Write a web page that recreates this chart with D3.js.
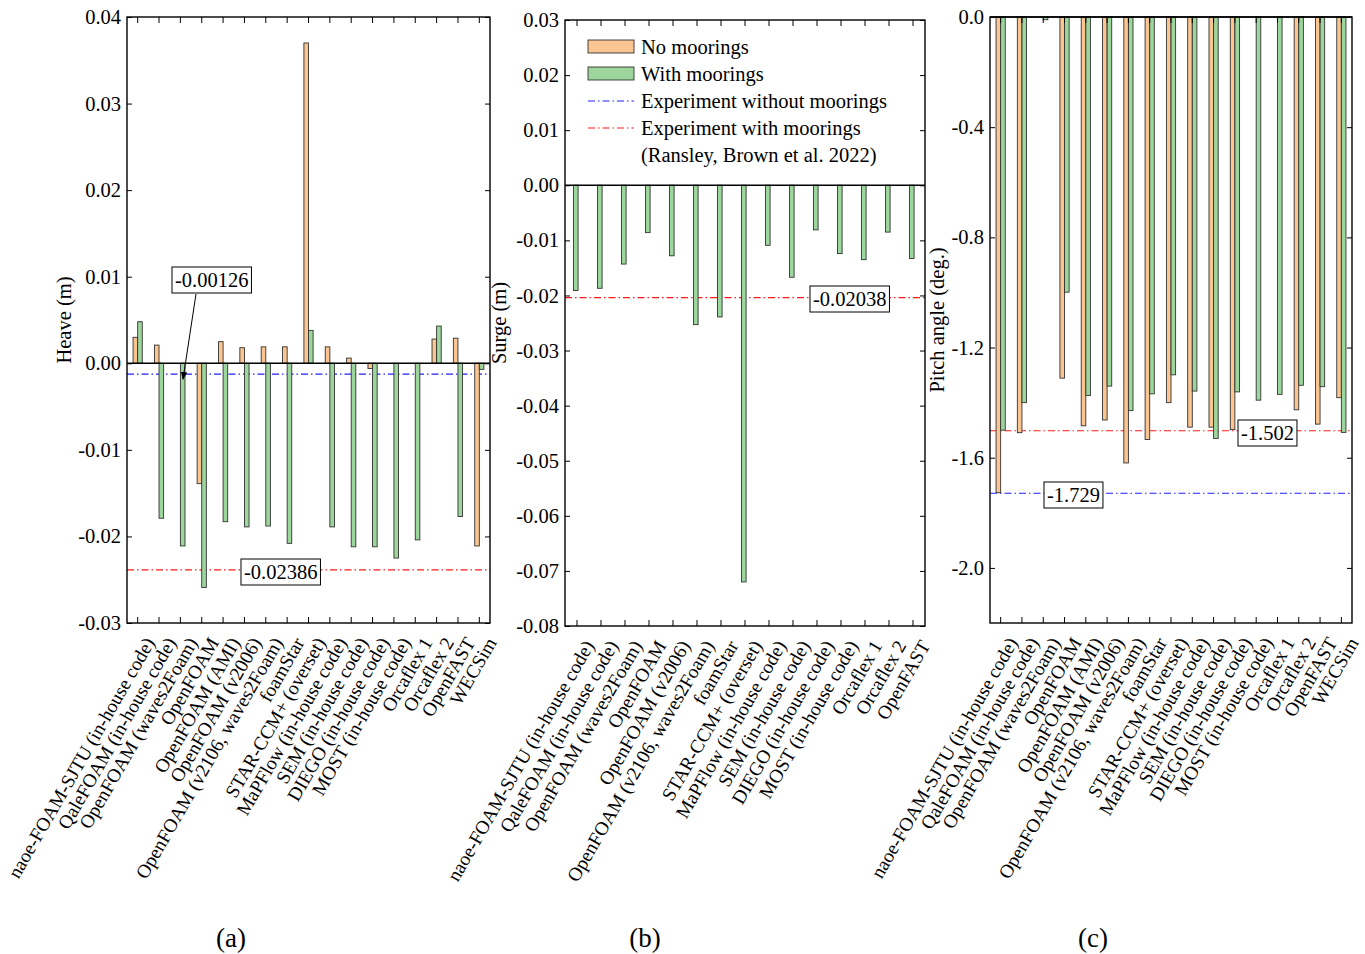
<!DOCTYPE html>
<html><head><meta charset="utf-8">
<script src="https://cdn.jsdelivr.net/npm/d3@7"></script>
<style>body{margin:0;background:#fff}text{font-family:"Liberation Serif","DejaVu Serif",serif}</style>
</head><body><svg id="chart" width="1365" height="954"></svg>
<script>
const codesA = ["naoe-FOAM-SJTU (in-house code)", "QaleFOAM (in-house code)", "OpenFOAM (waves2Foam)", "OpenFOAM",
  "OpenFOAM (AMI)", "OpenFOAM (v2006)", "OpenFOAM (v2106, waves2Foam)", "foamStar", "STAR-CCM+ (overset)",
  "MaPFlow (in-house code)", "SEM (in-house code)", "DIEGO (in-house code)", "MOST (in-house code)",
  "Orcaflex 1", "Orcaflex 2", "OpenFAST", "WECSim"];
const codesB = ["naoe-FOAM-SJTU (in-house code)", "QaleFOAM (in-house code)", "OpenFOAM (waves2Foam)", "OpenFOAM",
  "OpenFOAM (v2006)", "OpenFOAM (v2106, waves2Foam)", "foamStar", "STAR-CCM+ (overset)",
  "MaPFlow (in-house code)", "SEM (in-house code)", "DIEGO (in-house code)", "MOST (in-house code)",
  "Orcaflex 1", "Orcaflex 2", "OpenFAST"];

const heaveNoMoor = [0.0030, 0.0021, null, -0.0139, 0.0025, 0.0018, 0.0019, 0.0019, 0.0370, 0.0019, 0.0006, -0.0006, null, null, 0.0028, 0.0029, -0.0211];
const heaveMoor = [0.0048, -0.0179, -0.0211, -0.0259, -0.0183, -0.0189, -0.0188, -0.0208, 0.0038, -0.0189, -0.0212, -0.0212, -0.0225, -0.0204, 0.0043, -0.0177, -0.0007];
const surgeMoor = [-0.0191, -0.0187, -0.0143, -0.0086, -0.0128, -0.0253, -0.0239, -0.0720, -0.0109, -0.0167, -0.0081, -0.0124, -0.0135, -0.0085, -0.0133];
const pitchNoMoor = [-1.727, -1.509, null, -1.311, -1.484, -1.463, -1.619, -1.534, -1.400, -1.489, -1.489, -1.498, null, null, -1.426, -1.478, -1.382];
const pitchMoor = [-1.500, -1.400, -0.010, -0.999, -1.374, -1.340, -1.429, -1.368, -1.299, -1.358, -1.530, -1.361, -1.391, -1.370, -1.337, -1.342, -1.508];

const heaveTicks = [0.04, 0.03, 0.02, 0.01, 0, -0.01, -0.02, -0.03];
const surgeTicks = [0.03, 0.02, 0.01, 0, -0.01, -0.02, -0.03, -0.04, -0.05, -0.06, -0.07, -0.08];
const pitchTicks = [0, -0.4, -0.8, -1.2, -1.6, -2.0];

const ORANGE = "#fac590", GREEN = "#9cd69c", BLUE = "#2020ff", RED = "#ff1a1a";
const FS = 20.5;
const svg = d3.select("#chart");

function panel(o) {
  const g = svg.append("g");
  const x = d3.scaleBand().domain(o.cats).range([o.x0, o.x1]);
  const y = d3.scaleLinear().domain(o.yDomain).range([o.y1, o.y0]);
  const bw = 4.6;
  const cx = c => x(c) + x.bandwidth() / 2;

  // reference lines
  o.refs.forEach(r => {
    g.append("line").attr("x1", o.x0).attr("x2", o.x1).attr("y1", y(r.v)).attr("y2", y(r.v))
      .attr("stroke", r.color).attr("stroke-width", 1.2).attr("stroke-dasharray", "7,3,1.5,3");
  });

  // bars
  o.series.forEach(s => {
    g.selectAll(null).data(o.cats.map((c, i) => ({ c, v: s.values[i] })).filter(d => d.v != null))
      .enter().append("rect")
      .attr("x", d => cx(d.c) + s.off)
      .attr("width", bw)
      .attr("y", d => y(Math.max(0, d.v)))
      .attr("height", d => Math.abs(y(d.v) - y(0)))
      .attr("fill", s.color).attr("stroke", "#333").attr("stroke-width", 0.9);
  });

  // zero line
  g.append("line").attr("x1", o.x0).attr("x2", o.x1).attr("y1", y(0)).attr("y2", y(0))
    .attr("stroke", "#000").attr("stroke-width", 1.5);

  // frame
  g.append("rect").attr("x", o.x0).attr("y", o.y0).attr("width", o.x1 - o.x0).attr("height", o.y1 - o.y0)
    .attr("fill", "none").attr("stroke", "#000").attr("stroke-width", 1.4);

  // y axis left & right
  const yl = g.append("g").attr("transform", `translate(${o.x0},0)`)
    .call(d3.axisLeft(y).tickValues(o.ticks).tickSize(-5).tickPadding(6).tickFormat(o.fmt));
  yl.select(".domain").remove();
  yl.selectAll("text").attr("font-size", FS);
  const yr = g.append("g").attr("transform", `translate(${o.x1},0)`)
    .call(d3.axisRight(y).tickValues(o.ticks).tickSize(-5).tickFormat(""));
  yr.select(".domain").remove();

  // x axis bottom & top
  const xa = g.append("g").attr("transform", `translate(0,${o.y1})`)
    .call(d3.axisBottom(x).tickSize(-6).tickPadding(4));
  xa.select(".domain").remove();
  xa.selectAll("text").attr("font-size", 19.3).attr("text-anchor", "end").attr("y", 0)
    .attr("transform", "translate(12,16) rotate(-60)").attr("dy", "0.35em");
  const xt = g.append("g").attr("transform", `translate(0,${o.y0})`)
    .call(d3.axisTop(x).tickSize(-6).tickFormat(""));
  xt.select(".domain").remove();

  // y label
  svg.append("text").attr("transform", `translate(${o.labX},${(o.y0 + o.y1) / 2}) rotate(-90)`)
    .attr("text-anchor", "middle").attr("font-size", FS).text(o.label);

  // caption
  svg.append("text").attr("x", o.capX).attr("y", 947).attr("text-anchor", "middle")
    .attr("font-size", 27).text(o.cap);

  // value boxes
  o.boxes.forEach(b => {
    const t = g.append("text").attr("x", b.x).attr("y", b.y).attr("font-size", FS).text(b.t);
    const bb = t.node().getBBox();
    g.insert("rect", () => t.node()).attr("x", bb.x - 3).attr("y", bb.y - 2)
      .attr("width", bb.width + 6).attr("height", bb.height + 4)
      .attr("fill", "#fff").attr("stroke", "#000").attr("stroke-width", 1);
  });
  return { g, x, y };
}

const pa = panel({
  cats: codesA, x0: 127, x1: 490, y0: 17, y1: 623, yDomain: [-0.03, 0.04], ticks: heaveTicks,
  fmt: d => d3.format(".2f")(d).replace("−", "-"),
  series: [{ values: heaveNoMoor, color: ORANGE, off: -4.6 }, { values: heaveMoor, color: GREEN, off: 0 }],
  refs: [{ v: -0.00126, color: BLUE }, { v: -0.02386, color: RED }],
  label: "Heave (m)", labX: 71, cap: "(a)", capX: 231,
  boxes: [{ t: "-0.00126", x: 175, y: 287 }, { t: "-0.02386", x: 244, y: 579 }]
});
// arrow for -0.00126
svg.append("defs").append("marker").attr("id", "arr").attr("viewBox", "0 0 10 10").attr("refX", 9).attr("refY", 5)
  .attr("markerWidth", 8).attr("markerHeight", 8).attr("orient", "auto")
  .append("path").attr("d", "M0,1 L10,5 L0,9 Z").attr("fill", "#000");
svg.append("line").attr("x1", 196).attr("y1", 294).attr("x2", 183).attr("y2", pa.y(-0.00126) + 5)
  .attr("stroke", "#000").attr("stroke-width", 1).attr("marker-end", "url(#arr)");

panel({
  cats: codesB, x0: 565, x1: 925, y0: 20, y1: 626, yDomain: [-0.08, 0.03], ticks: surgeTicks,
  fmt: d => d3.format(".2f")(d).replace("−", "-"),
  series: [{ values: surgeMoor, color: GREEN, off: -3.5 }],
  refs: [{ v: -0.02038, color: RED }],
  label: "Surge (m)", labX: 506, cap: "(b)", capX: 645,
  boxes: [{ t: "-0.02038", x: 813, y: 306 }]
});
// legend
const leg = svg.append("g").attr("transform", "translate(588,47)");
const legItems = [
  { t: "No moorings", type: "rect", c: ORANGE },
  { t: "With moorings", type: "rect", c: GREEN },
  { t: "Experiment without moorings", type: "line", c: BLUE },
  { t: "Experiment with moorings", type: "line", c: RED },
  { t: "(Ransley, Brown et al. 2022)", type: "none" }
];
legItems.forEach((d, i) => {
  const yy = i * 27;
  if (d.type === "rect") leg.append("rect").attr("x", 0).attr("y", yy - 7).attr("width", 46).attr("height", 13)
    .attr("fill", d.c).attr("stroke", "#333").attr("stroke-width", 0.9);
  if (d.type === "line") leg.append("line").attr("x1", 0).attr("x2", 46).attr("y1", yy).attr("y2", yy)
    .attr("stroke", d.c).attr("stroke-width", 1.2).attr("stroke-dasharray", "7,3,1.5,3");
  leg.append("text").attr("x", 53).attr("y", yy + 7).attr("font-size", FS).text(d.t);
});

panel({
  cats: codesA, x0: 990, x1: 1352, y0: 17, y1: 623, yDomain: [-2.2, 0], ticks: pitchTicks,
  fmt: d => d3.format(".1f")(d).replace("−", "-"),
  series: [{ values: pitchNoMoor, color: ORANGE, off: -4.6 }, { values: pitchMoor, color: GREEN, off: 0 }],
  refs: [{ v: -1.729, color: BLUE }, { v: -1.502, color: RED }],
  label: "Pitch angle (deg.)", labX: 944, cap: "(c)", capX: 1093,
  boxes: [{ t: "-1.502", x: 1241, y: 440 }, { t: "-1.729", x: 1047, y: 502 }]
});
</script></body></html>
